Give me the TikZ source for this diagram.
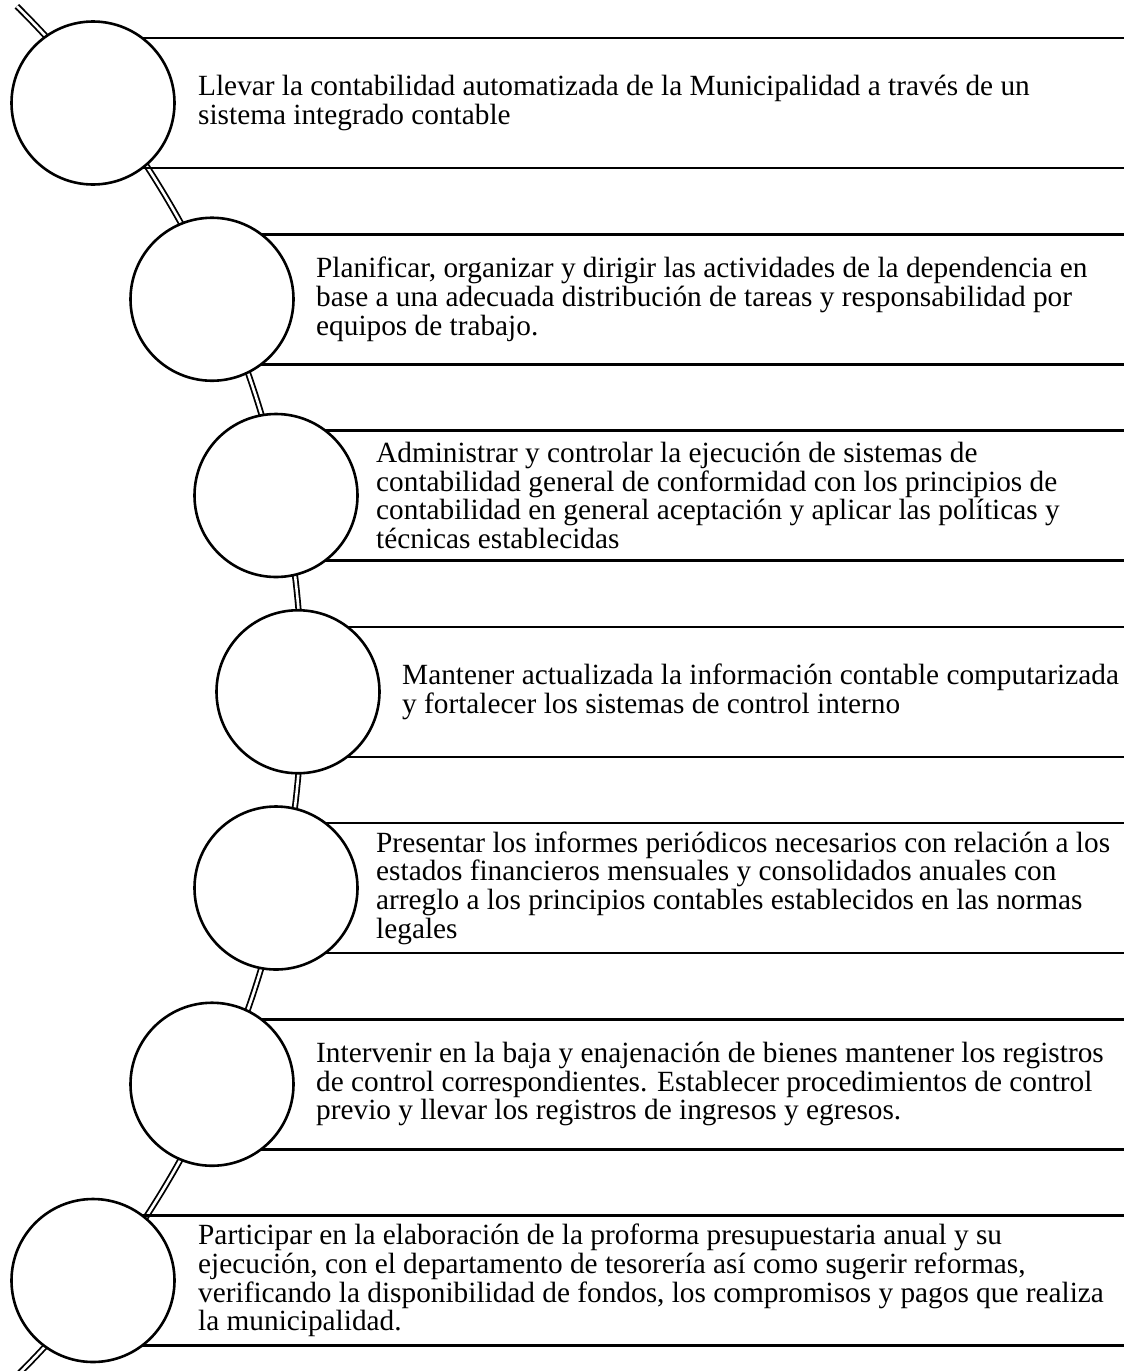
\documentclass[tikz,border=0pt]{standalone}
\usepackage{fontspec}
\setmainfont{Liberation Serif}
\begin{document}
\begin{tikzpicture}[x=1pt,y=1pt,
  ring/.style={circle,draw=black,line width=2.6pt,fill=white,minimum size=163pt,inner sep=0pt},
  rule/.style={line width=2.5pt,draw=black},
  spine/.style={double=white,draw=black,line width=1.8pt,double distance=2.6pt},
  txt/.style={anchor=west,align=left,inner sep=0pt,font=\fontsize{29.3}{28.7}\selectfont}]
\useasboundingbox (0,0) rectangle (1124,-1371);
\clip (0,0) rectangle (1124,-1371);
\fill[white] (0,0) rectangle (1124,-1371);
% spine
\draw[spine] (-663,-691) ++(45.2:965) arc[start angle=45.2,end angle=-45.4,radius=965];
% rules
\foreach \cx/\cy in {93/103,212/299.25,276/495.5,298/691.75,276/888,212/1084.25,93/1280.5}{
  \draw[rule] (\cx,-\cy+65) -- (1124,-\cy+65);
  \draw[rule] (\cx,-\cy-65) -- (1124,-\cy-65);
}
% circles
\node[ring] (c1) at (93,-103) {};
\node[ring] (c2) at (212,-299.25) {};
\node[ring] (c3) at (276,-495.5) {};
\node[ring] (c4) at (298,-691.75) {};
\node[ring] (c5) at (276,-888) {};
\node[ring] (c6) at (212,-1084.25) {};
\node[ring] (c7) at (93,-1280.5) {};
% texts
\node[txt] (t1) at (198,-103) {Llevar la contabilidad automatizada de la Municipalidad a través de un\\sistema integrado contable};
\node[txt] (t2) at (316,-299.25) {Planificar, organizar y dirigir las actividades de la dependencia en\\base a una adecuada distribución de tareas y responsabilidad por\\equipos de trabajo.};
\node[txt] (t3) at (376,-495.5) {Administrar y controlar la ejecución de sistemas de\\contabilidad general de conformidad con los principios de\\contabilidad en general aceptación y aplicar las políticas y\\técnicas establecidas};
\node[txt] (t4) at (402,-691.75) {Mantener actualizada la información contable computarizada\\y fortalecer los sistemas de control interno};
\node[txt] (t5) at (376,-888) {Presentar los informes periódicos necesarios con relación a los\\estados financieros mensuales y consolidados anuales con\\arreglo a los principios contables establecidos en las normas\\legales};
\node[txt] (t6) at (316,-1084.25) {Intervenir en la baja y enajenación de bienes mantener los registros\\de control correspondientes. Establecer procedimientos de control\\previo y llevar los registros de ingresos y egresos.};
\node[txt] (t7) at (198,-1280.5) {Participar en la elaboración de la proforma presupuestaria anual y su\\ejecución, con el departamento de tesorería así como sugerir reformas,\\verificando la disponibilidad de fondos, los compromisos y pagos que realiza\\la municipalidad.};
\end{tikzpicture}
\end{document}
